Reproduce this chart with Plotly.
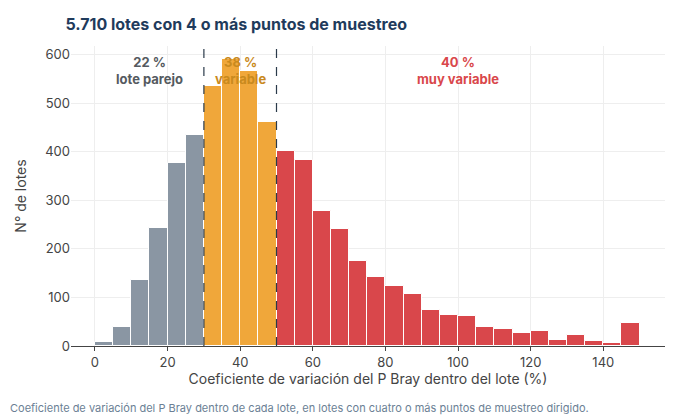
import plotly.graph_objects as go

bin_starts = list(range(0, 150, 5))
counts = [8, 39, 135, 244, 378, 435, 536, 591, 567, 462, 402, 384, 279, 242, 175,
          142, 123, 107, 74, 64, 62, 39, 35, 27, 31, 12, 23, 10, 6, 47]
group_colors = {"parejo": "#8a96a3", "variable": "#f0a73a", "muy": "#d9474b"}
labels = [("22 %<br>lote parejo", 15, "#555a60"),
          ("38 %<br>variable", 40, "#c98a1e"),
          ("40 %<br>muy variable", 100, "#d9474b")]

def color(s):
    if s < 30: return group_colors["parejo"]
    if s < 50: return group_colors["variable"]
    return group_colors["muy"]

fig = go.Figure(go.Bar(
    x=[s + 2.5 for s in bin_starts], y=counts, width=5,
    marker=dict(color=[color(s) for s in bin_starts], line=dict(color="white", width=1)),
    hoverinfo="skip"))

for xv in (30, 50):
    fig.add_shape(type="line", x0=xv, x1=xv, y0=0, y1=1, yref="paper",
                  line=dict(color="#2a3a4a", width=1.2, dash="dash"))
for txt, xv, c in labels:
    fig.add_annotation(x=xv, y=605, text=f"<b>{txt}</b>", showarrow=False,
                       font=dict(size=13, color=c), yanchor="top")

fig.add_annotation(x=0, y=-0.175, xref="paper", yref="paper", xanchor="left", yanchor="top",
                   xshift=-63, text="Coeficiente de variación del P Bray dentro de cada lote, en lotes con cuatro o más puntos de muestreo dirigido.",
                   showarrow=False, font=dict(size=11, color="#6b7f95"))

fig.update_layout(
    width=675, height=417, plot_bgcolor="white", paper_bgcolor="white",
    margin=dict(l=63, r=18, t=38, b=79, autoexpand=False), showlegend=False, bargap=0,
    font=dict(family="Inter", color="#444"),
    title=dict(text="<b>5.710 lotes con 4 o más puntos de muestreo</b>", x=0.085, xanchor="left",
               y=0.975, yanchor="top", font=dict(size=16, color="#1f3b5c")),
    xaxis=dict(range=[-6.6, 157], tickvals=list(range(0, 141, 20)), showgrid=True, automargin=False,
               gridcolor="#eeeeee", title=dict(text="Coeficiente de variación del P Bray dentro del lote (%)",
               font=dict(size=14), standoff=4), showline=True, linecolor="#444", ticks="outside",
               ticklen=4, tickfont=dict(size=13)),
    yaxis=dict(range=[0, 618], tickvals=list(range(0, 601, 100)), showgrid=True, automargin=False,
               gridcolor="#eeeeee", title=dict(text="N° de lotes", font=dict(size=14)),
               zeroline=False, tickfont=dict(size=13)),
)
fig.write_html("out.html")
